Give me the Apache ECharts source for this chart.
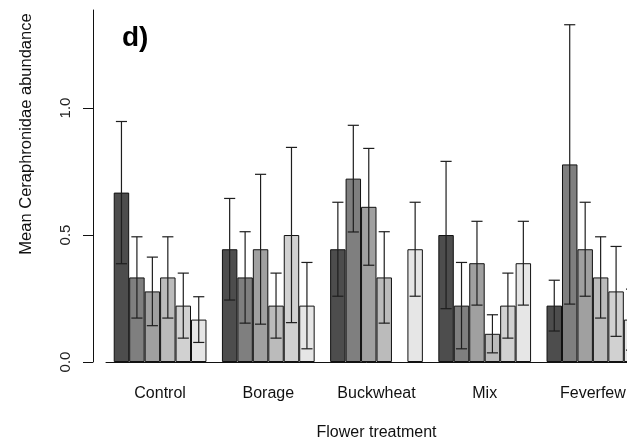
<!DOCTYPE html>
<html>
<head>
<meta charset="utf-8">
<script src="https://cdn.jsdelivr.net/npm/echarts@6/dist/echarts.min.js"></script>
<style>
  html, body { margin: 0; padding: 0; background: #fff; }
  #chart { width: 627px; height: 443px; }
</style>
</head>
<body>
<div id="chart"></div>
<script>
// Flower treatments along the x axis
const treatments = ['Control', 'Borage', 'Buckwheat', 'Mix', 'Feverfew'];

// Mean abundance for each of the six grouped bars (dark to light)
const mean1 = [0.667, 0.444, 0.444, 0.500, 0.222];
const mean2 = [0.333, 0.333, 0.722, 0.222, 0.778];
const mean3 = [0.278, 0.444, 0.611, 0.389, 0.444];
const mean4 = [0.333, 0.222, 0.333, 0.111, 0.333];
const mean5 = [0.222, 0.500, null, 0.222, 0.278];
const mean6 = [0.167, 0.222, 0.444, 0.389, 0.167];

// Error bar half-widths (± around the mean)
const err1 = [0.280, 0.200, 0.185, 0.290, 0.100];
const err2 = [0.160, 0.180, 0.210, 0.170, 0.550];
const err3 = [0.135, 0.295, 0.230, 0.165, 0.185];
const err4 = [0.160, 0.128, 0.180, 0.075, 0.160];
const err5 = [0.128, 0.345, null, 0.128, 0.177];
const err6 = [0.090, 0.170, 0.185, 0.165, 0.120];

// Y axis tick values
const yTicks = [0, 0.5, 1.0];

const means = [mean1, mean2, mean3, mean4, mean5, mean6];
const errs = [err1, err2, err3, err4, err5, err6];
const greys = ['#4D4D4D', '#7F7F7F', '#A0A0A0', '#BBBBBB', '#D1D1D1', '#E6E6E6'];
const nBars = means.length;
const catGap = 1 / 7; // one bar-width of space between groups

const chart = echarts.init(document.getElementById('chart'), null, { renderer: 'canvas' });

const barSeries = means.map((m, s) => ({
  type: 'bar',
  name: 'g' + (s + 1),
  data: m.map(v => (v == null ? '-' : v)),
  barGap: '0%',
  barCategoryGap: (catGap * 100) + '%',
  itemStyle: { color: greys[s], borderColor: '#111', borderWidth: 1 },
  emphasis: { disabled: true },
  z: 2
}));

// Error bars: one custom item per (group, bar) pair
const errData = [];
means.forEach((m, s) => {
  m.forEach((v, c) => {
    if (v != null && errs[s][c] != null) errData.push([c, v, errs[s][c], s]);
  });
});

const errSeries = {
  type: 'custom',
  data: errData,
  z: 5,
  silent: true,
  renderItem: function (params, api) {
    const c = api.value(0), v = api.value(1), e = api.value(2), s = api.value(3);
    const band = api.size([1, 0])[0];
    const bw = band * (1 - catGap) / nBars;
    const center = api.coord([c, 0])[0];
    const x = center + (s - (nBars - 1) / 2) * bw;
    const yHi = api.coord([c, v + e])[1];
    const yLo = api.coord([c, Math.max(v - e, 0)])[1];
    const hw = bw * 0.36;
    const st = { stroke: '#1e1e1e', lineWidth: 1.2 };
    return {
      type: 'group',
      children: [
        { type: 'line', shape: { x1: x, y1: yHi, x2: x, y2: yLo }, style: st },
        { type: 'line', shape: { x1: x - hw, y1: yHi, x2: x + hw, y2: yHi }, style: st },
        { type: 'line', shape: { x1: x - hw, y1: yLo, x2: x + hw, y2: yLo }, style: st }
      ]
    };
  }
};

const option = {
  animation: false,
  backgroundColor: '#ffffff',
  textStyle: { fontFamily: 'Liberation Sans, Arial, sans-serif' },
  grid: { left: 106, top: 10, width: 541, height: 352, containLabel: false, outerBoundsMode: 'none' },
  xAxis: {
    type: 'category',
    data: treatments,
    axisLine: { lineStyle: { color: '#111', width: 1 } },
    axisTick: { alignWithLabel: true, length: 10, lineStyle: { color: '#111' } },
    axisLabel: { fontSize: 16, color: '#111', margin: 24 },
    name: 'Flower treatment',
    nameLocation: 'middle',
    nameGap: 63,
    nameTextStyle: { fontSize: 16, color: '#111' }
  },
  yAxis: {
    type: 'value',
    min: 0,
    max: 1.386,
    offset: 13,
    axisLine: { show: true, lineStyle: { color: '#111', width: 1 } },
    axisTick: { show: true, length: 10, customValues: yTicks, lineStyle: { color: '#111' } },
    axisLabel: {
      customValues: yTicks,
      rotate: 90,
      fontSize: 15,
      color: '#222',
      margin: 20,
      formatter: v => v.toFixed(1)
    },
    splitLine: { show: false }
  },
  graphic: [
    {
      type: 'text',
      x: 26, y: 134,
      rotation: Math.PI / 2,
      style: {
        text: 'Mean Ceraphronidae abundance',
        font: '16.5px Liberation Sans, Arial, sans-serif',
        fill: '#111',
        align: 'center',
        verticalAlign: 'middle'
      }
    },
    {
      type: 'text',
      x: 122, y: 38,
      style: {
        text: 'd)',
        font: 'bold 28px Liberation Sans, Arial, sans-serif',
        fill: '#000',
        align: 'left',
        verticalAlign: 'middle'
      }
    }
  ],
  series: barSeries.concat([errSeries])
};

chart.setOption(option);
</script>
</body>
</html>
